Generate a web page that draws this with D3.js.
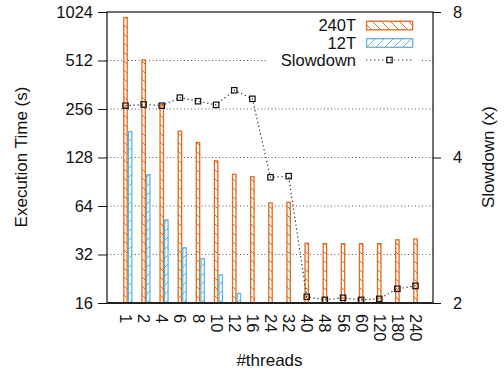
<!DOCTYPE html>
<html><head><meta charset="utf-8">
<script src="https://cdn.jsdelivr.net/npm/d3@7"></script>
<style>body{margin:0;background:#fff}svg{display:block;font-family:"Liberation Sans",Arial,sans-serif}</style>
</head><body><svg id="c" width="504" height="374"></svg>
<script>
const categories = ["1","2","4","6","8","10","12","16","24","32","40","48","56","60","120","180","240"];
const time240T = [954,521,276,188,160,123,101.5,98,67.5,68,37.9,37.7,37.7,37.7,37.7,39.8,40.3];
const time12T = [187,101,52.9,35.5,30.4,24.1,18.5,null,null,null,null,null,null,null,null,null,null];
const slowdown = [5.12,5.15,5.12,5.32,5.23,5.14,5.51,5.29,3.64,3.66,2.06,2.03,2.05,2.03,2.04,2.14,2.17];
const leftTicks = [16,32,64,128,256,512,1024];
const rightTicks = [2,4,8];
const seriesNames = ["240T","12T","Slowdown"];

const ORANGE = "#e3691c", BLUE = "#5bb5e6";
const L = 107, R = 433, T = 12, B = 303;
const svg = d3.select("#c");
const yL = d3.scaleLog().base(2).domain([16,1024]).range([B,T]);
const yR = d3.scaleLog().base(2).domain([2,8]).range([B,T]);
const x = d3.scalePoint().domain(categories).range([125.5,415.5]);
const bw = 4.6;

const defs = svg.append("defs");
function hatch(id, color, back){
  const p = defs.append("pattern").attr("id",id).attr("patternUnits","userSpaceOnUse").attr("width",9).attr("height",9);
  p.append("rect").attr("width",9).attr("height",9).attr("fill","#fff");
  p.append("path").attr("d", back ? "M0,0L9,9M-1,8L1,10M8,-1L10,1" : "M0,9L9,0M-1,1L1,-1M8,10L10,8")
   .attr("stroke",color).attr("stroke-width",1).attr("fill","none");
}
hatch("hO", ORANGE, true);
hatch("hB", BLUE, false);

// grid
svg.append("g").selectAll("line").data(leftTicks.slice(1,-1)).join("line")
  .attr("x1",L).attr("x2",R).attr("y1",d=>yL(d)).attr("y2",d=>yL(d))
  .attr("stroke","#555").attr("stroke-width",1).attr("stroke-dasharray","1,2.5");

// bars
const idx = categories.map((c,i)=>i);
svg.append("g").selectAll("rect").data(idx).join("rect")
  .attr("x",i=>x(categories[i])-bw/2+0.6).attr("width",bw-1.2)
  .attr("y",i=>yL(time240T[i])+0.6).attr("height",i=>B-yL(time240T[i])-0.6)
  .attr("fill","url(#hO)").attr("stroke",ORANGE).attr("stroke-width",1.3);
svg.append("g").selectAll("rect").data(idx.filter(i=>time12T[i]!=null)).join("rect")
  .attr("x",i=>x(categories[i])+bw/2+0.6).attr("width",bw-1.2)
  .attr("y",i=>yL(time12T[i])+0.6).attr("height",i=>B-yL(time12T[i])-0.6)
  .attr("fill","url(#hB)").attr("stroke",BLUE).attr("stroke-width",1.3);

// slowdown line
const line = d3.line().x(i=>x(categories[i])).y(i=>yR(slowdown[i]));
svg.append("path").datum(idx).attr("d",line).attr("fill","none")
  .attr("stroke","#333").attr("stroke-width",1.2).attr("stroke-dasharray","1.3,2.7");
svg.append("g").selectAll("rect").data(idx).join("rect")
  .attr("x",i=>x(categories[i])-2.7).attr("y",i=>yR(slowdown[i])-2.7)
  .attr("width",5.4).attr("height",5.4).attr("fill","none").attr("stroke","#111").attr("stroke-width",1.2);

// legend
const lg = svg.append("g");
lg.append("rect").attr("x",268).attr("y",14).attr("width",154).attr("height",54).attr("fill","#fff");
const rowY = [25.5,43,60];
lg.selectAll("text").data(seriesNames).join("text")
  .attr("x",356).attr("y",(d,i)=>rowY[i]).attr("dy","0.36em").attr("text-anchor","end")
  .attr("font-size",16.5).attr("fill","#111").text(d=>d);
lg.append("rect").attr("x",366.6).attr("y",rowY[0]-4.3).attr("width",46).attr("height",8.6)
  .attr("fill","url(#hO)").attr("stroke",ORANGE).attr("stroke-width",1.3);
lg.append("rect").attr("x",366.6).attr("y",rowY[1]-4.3).attr("width",46).attr("height",8.6)
  .attr("fill","url(#hB)").attr("stroke",BLUE).attr("stroke-width",1.3);
lg.append("line").attr("x1",366).attr("x2",413).attr("y1",rowY[2]).attr("y2",rowY[2])
  .attr("stroke","#333").attr("stroke-width",1.2).attr("stroke-dasharray","1.3,2.7");
lg.append("rect").attr("x",389.5-2.7).attr("y",rowY[2]-2.7).attr("width",5.4).attr("height",5.4)
  .attr("fill","none").attr("stroke","#111").attr("stroke-width",1.2);

// axes
const fmt = d3.format("d");
const ax = svg.append("g").attr("transform",`translate(${L},0)`)
  .call(d3.axisLeft(yL).tickValues(leftTicks).tickFormat(fmt).tickSize(9).tickPadding(5));
const ax2 = svg.append("g").attr("transform",`translate(${R},0)`)
  .call(d3.axisRight(yR).tickValues(rightTicks).tickFormat(fmt).tickSize(8).tickPadding(12));
const ax3 = svg.append("g").attr("transform",`translate(0,${B})`)
  .call(d3.axisBottom(x).tickSize(0));
[ax,ax2,ax3].forEach(a=>{a.select(".domain").remove(); a.selectAll("text").attr("font-size",16.5).attr("fill","#111").attr("font-family",null); a.selectAll(".tick line").attr("stroke","#111");});
ax3.selectAll("text").attr("y",null).attr("dy","0.36em").attr("text-anchor","start")
  .attr("transform","translate(0,11) rotate(90)");
// frame
svg.append("rect").attr("x",L).attr("y",T).attr("width",R-L).attr("height",B-T)
  .attr("fill","none").attr("stroke","#111").attr("stroke-width",1.2);
svg.append("line").attr("x1",L).attr("x2",R).attr("y1",B).attr("y2",B).attr("stroke","#222").attr("stroke-width",2);

// titles
svg.append("text").attr("transform","translate(27,157) rotate(-90)").attr("text-anchor","middle")
  .attr("font-size",17).attr("fill","#111").text("Execution Time (s)");
svg.append("text").attr("transform","translate(494,157) rotate(-90)").attr("text-anchor","middle")
  .attr("font-size",17).attr("fill","#111").text("Slowdown (x)");
svg.append("text").attr("x",269.5).attr("y",366).attr("text-anchor","middle")
  .attr("font-size",17).attr("fill","#111").text("#threads");
</script></body></html>
